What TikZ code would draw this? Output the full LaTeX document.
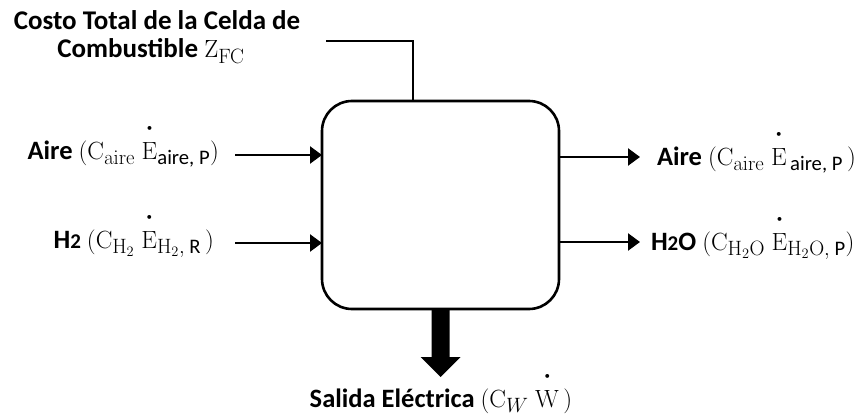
\documentclass[tikz,border=0pt]{standalone}
\usepackage{amsmath}
\usepackage[no-math]{fontspec}
\setmainfont{Carlito}
\usetikzlibrary{arrows.meta,calc}
\newcommand{\dotover}[1]{\overset{\raisebox{6pt}{\fontsize{11}{11}\selectfont\textbullet}}{\mathrm{#1}}}
\newcommand{\sub}[1]{\text{\normalfont #1}}
\newcommand{\two}{{\fontsize{21}{24}\selectfont\bfseries 2}}
\newcommand{\mth}[1]{{\fontsize{29.5}{32}\selectfont$#1$}}
\begin{document}
\begin{tikzpicture}[x=1pt,y=-1pt,
  every node/.style={inner sep=0pt, outer sep=0pt},
  lbl/.style={font=\fontsize{26.5}{30}\selectfont},
  ttl/.style={font=\fontsize{27}{30}\selectfont\bfseries, align=center},
  ln/.style={line width=2.4pt},
  arr/.style={line width=2.4pt, -{Triangle[length=12pt,width=17pt]}},
  boxstyle/.style={draw, line width=2.6pt, rounded corners=30pt, minimum width=237pt, minimum height=208pt}]
\useasboundingbox (0,0) rectangle (861,417);
\fill[white] (0,0) rectangle (861,417);
\node[boxstyle] (box) at (440.5,205) {};
% top cost input
\node[ttl, anchor=base] (t1) at (157,30) {Costo Total de la Celda de};
\node[ttl, anchor=base] (t2) at (151,58) {Combustible \mth{\mathrm{Z}_{\mathrm{FC}}}};
\coordinate (tl) at (326,41);
\draw[ln] (tl) -| ([xshift=-27.5pt]box.north);
% inputs
\node[lbl, anchor=base east] (inA) at (219,159) {\textbf{Aire} \mth{(\mathrm{C}_{\mathrm{aire}}\ \dotover{E}_{\sub{aire, P}})}};
\node[lbl, anchor=base east] (inH) at (214,248) {\textbf{H}\two{} \mth{(\mathrm{C}_{\mathrm{H}_2}\ \dotover{E}_{\mathrm{H}_2,\sub{ R}}\,)}};
\coordinate (a1) at (235,155);
\coordinate (a2) at (235,243);
\draw[arr] (a1) -- (a1 -| box.west);
\draw[arr] (a2) -- (a2 -| box.west);
% outputs
\node[lbl, anchor=base west] (outA) at (657,165) {\textbf{Aire} \mth{(\mathrm{C}_{\mathrm{aire}}\ \dotover{E}_{\,\sub{aire, P}}\,)}};
\node[lbl, anchor=base west] (outH) at (651,250) {\textbf{H}\two\textbf{O} \mth{(\mathrm{C}_{\mathrm{H}_2\mathrm{O}}\ \dotover{E}_{\mathrm{H}_2\mathrm{O},\sub{ P}})}};
\coordinate (b1) at (640,157);
\coordinate (b2) at (640,242);
\draw[arr] (b1 -| box.east) -- (b1);
\draw[arr] (b2 -| box.east) -- (b2);
% electrical output
\fill ([xshift=-9pt]box.south) -- ++(0,48) -- ++(-11,0) -- ++(20,20) -- ++(20,-20) -- ++(-11,0) -- ++(0,-48) -- cycle;
\node[lbl, anchor=base] (out) at (441,407) {\textbf{Salida Eléctrica} \mth{(\mathrm{C}_{W}\ \dotover{W}\,)}};
\end{tikzpicture}
\end{document}
